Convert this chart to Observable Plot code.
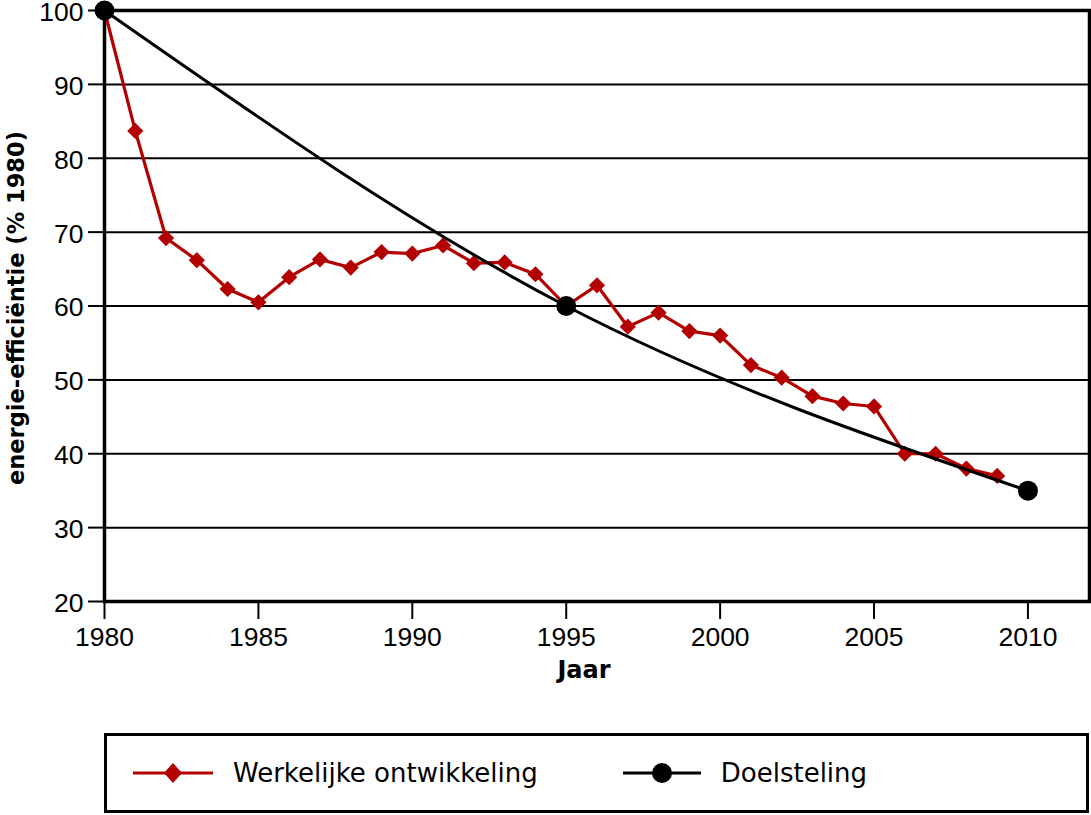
<!DOCTYPE html>
<html>
<head>
<meta charset="utf-8">
<script src="https://cdn.jsdelivr.net/npm/d3@7"></script>
<script src="https://cdn.jsdelivr.net/npm/@observablehq/plot@0.6"></script>
<style>
  html, body { margin: 0; padding: 0; background: #fff; }
  #chart svg { display: block; overflow: visible; }
  .legend {
    margin-top: 18px; margin-left: 104px; width: 985px; height: 80px;
    box-sizing: border-box; border: 3px solid #000;
    display: flex; align-items: center; padding-left: 26px;
    font-family: "DejaVu Sans", sans-serif; font-size: 26px; color: #000;
  }
  .legend .item { display: flex; align-items: center; }
  .legend .item svg { display: block; }
  .legend .item span { margin-left: 20px; }
</style>
</head>
<body>
<div id="chart"></div>
<script>
// Werkelijke ontwikkeling (actual development)
const years = [1980,1981,1982,1983,1984,1985,1986,1987,1988,1989,1990,1991,1992,1993,1994,1995,1996,1997,1998,1999,2000,2001,2002,2003,2004,2005,2006,2007,2008,2009];
const actual = [100,83.7,69.2,66.2,62.3,60.5,63.9,66.3,65.2,67.3,67.1,68.2,65.8,65.9,64.3,60.0,62.8,57.2,59.1,56.6,56.0,52.0,50.3,47.8,46.8,46.4,40.0,40.0,38.0,37.0];
// Doelstelling (target)
const targetYears = [1980, 1995, 2010];
const targetValues = [100, 60, 35];
const xTicks = [1980, 1985, 1990, 1995, 2000, 2005, 2010];
const yTicks = [20, 30, 40, 50, 60, 70, 80, 90, 100];
const seriesNames = ["Werkelijke ontwikkeling", "Doelsteling"];
const yTitle = "energie-efficiëntie (% 1980)";
const xTitle = "Jaar";

const RED = "#b30000";
const actualData = years.map((y, i) => ({year: y, value: actual[i]}));
const targetData = targetYears.map((y, i) => ({year: y, value: targetValues[i]}));

const chart = Plot.plot({
  width: 1091,
  height: 715,
  marginTop: 10,
  marginBottom: 114,
  marginLeft: 104,
  marginRight: 2,
  style: {fontFamily: "'Liberation Sans', Arial, sans-serif", fontSize: "26px", color: "#000", background: "#fff", overflow: "visible"},
  x: {domain: [1980, 2012]},
  y: {domain: [20, 100]},
  marks: [
    Plot.gridY(yTicks, {stroke: "#000", strokeOpacity: 1, strokeWidth: 2}),
    Plot.axisY(yTicks, {tickSize: 16, strokeWidth: 2, tickFormat: () => "", label: null}),
    Plot.text(yTicks, {y: d => d, frameAnchor: "left", textAnchor: "end", dx: -21, dy: 2, fontSize: 26.5, text: d => String(d)}),
    Plot.axisX(xTicks, {tickSize: 18, tickPadding: 8, strokeWidth: 2, fontSize: 26.5, tickFormat: d => String(d), label: null}),
    Plot.frame({stroke: "#000", strokeWidth: 3.5}),
    Plot.line(actualData, {x: "year", y: "value", stroke: RED, strokeWidth: 3.2}),
    Plot.dot(actualData, {x: "year", y: "value", symbol: "diamond2", r: 7.3, fill: RED, stroke: "none"}),
    Plot.line(targetData, {x: "year", y: "value", stroke: "#000", strokeWidth: 3, curve: "natural"}),
    Plot.dot(targetData, {x: "year", y: "value", r: 10, fill: "#000", stroke: "none"}),
    Plot.text([yTitle], {frameAnchor: "left", textAnchor: "middle", dx: -88, dy: 2, rotate: -90, fontWeight: "bold", fontSize: 22.5, fontFamily: "'DejaVu Sans', sans-serif", text: d => d}),
    Plot.text([xTitle], {frameAnchor: "bottom", textAnchor: "middle", dx: -13, dy: 76, fontWeight: "bold", fontSize: 24, fontFamily: "'DejaVu Sans', sans-serif", text: d => d})
  ]
});
document.getElementById("chart").appendChild(chart);

// Legend (HTML, below the SVG)
const legend = document.createElement("div");
legend.className = "legend";
legend.innerHTML = `
  <div class="item">
    <svg width="80" height="24" viewBox="0 0 80 24">
      <line x1="0" y1="12" x2="80" y2="12" stroke="${RED}" stroke-width="3.2"/>
      <path d="M40,2 L49,12 L40,22 L31,12 Z" fill="${RED}"/>
    </svg>
    <span>${seriesNames[0]}</span>
  </div>
  <div class="item" style="margin-left:85px">
    <svg width="78" height="24" viewBox="0 0 78 24">
      <line x1="0" y1="12" x2="78" y2="12" stroke="#000" stroke-width="3"/>
      <circle cx="39" cy="12" r="10" fill="#000"/>
    </svg>
    <span>${seriesNames[1]}</span>
  </div>`;
document.body.appendChild(legend);
</script>
</body>
</html>
